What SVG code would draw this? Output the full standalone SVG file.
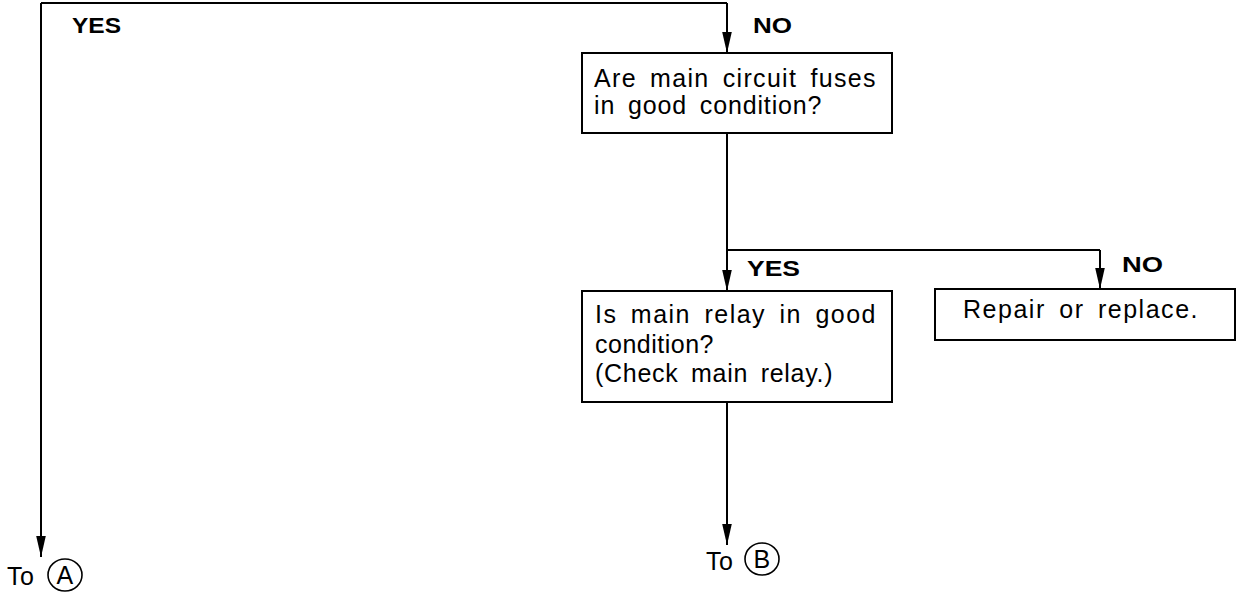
<svg xmlns="http://www.w3.org/2000/svg" width="1240" height="592" viewBox="0 0 1240 592">
  <style>
    .box { fill: #ffffff; stroke: #000000; stroke-width: 2; }
    .line { fill: none; stroke: #000000; stroke-width: 2; }
    .arrow { fill: none; stroke: #000000; stroke-width: 2; marker-end: url(#head); }
    .txt { font-family: "Liberation Sans", Arial, sans-serif; font-size: 25px; letter-spacing: 0.5px; word-spacing: 5px; fill: #000000; }
    .lbl { font-family: "Liberation Sans", Arial, sans-serif; font-size: 22px; font-weight: bold; fill: #000000; }
    .ref { fill: none; stroke: #000000; stroke-width: 1.6; }
  </style>
  <defs>
    <!-- long, narrow solid arrowhead pointing along the line -->
    <marker id="head" markerUnits="userSpaceOnUse" markerWidth="22" markerHeight="12" viewBox="0 0 22 12" refX="21" refY="6" orient="auto">
      <path d="M0,1.2 L21,6 L0,10.8 Z" fill="#000000"/>
    </marker>
  </defs>
  <rect width="1240" height="592" fill="#ffffff"/>

  <!-- connectors -->
  <g id="connectors">
    <path class="line" d="M41,3 H727"/>
    <path class="arrow" d="M41,3 V557"/>
    <path class="arrow" d="M727,3 V53"/>
    <path class="line" d="M727,133 V250 H1100"/>
    <path class="arrow" d="M727,250 V291"/>
    <path class="arrow" d="M1100,250 V289"/>
    <path class="arrow" d="M727,402 V545"/>
  </g>

  <!-- branch labels -->
  <g id="labels">
    <text class="lbl" x="72" y="33" textLength="49" lengthAdjust="spacingAndGlyphs">YES</text>
    <text class="lbl" x="753" y="33" textLength="39" lengthAdjust="spacingAndGlyphs">NO</text>
    <text class="lbl" x="747" y="276" textLength="53" lengthAdjust="spacingAndGlyphs">YES</text>
    <text class="lbl" x="1122" y="272" textLength="41" lengthAdjust="spacingAndGlyphs">NO</text>
  </g>

  <g id="fuses-check">
    <rect class="box" x="582" y="53" width="310" height="80"/>
    <text class="txt" x="594" y="87" textLength="282" lengthAdjust="spacing">Are main circuit fuses</text>
    <text class="txt" x="594" y="114" textLength="228" lengthAdjust="spacing">in good condition?</text>
  </g>

  <g id="relay-check">
    <rect class="box" x="582" y="291" width="310" height="111"/>
    <text class="txt" x="595" y="323" textLength="281" lengthAdjust="spacing">Is main relay in good</text>
    <text class="txt" x="595" y="353">condition?</text>
    <text class="txt" x="595" y="382" textLength="238" lengthAdjust="spacing">(Check main relay.)</text>
  </g>

  <g id="repair">
    <rect class="box" x="935" y="289" width="300" height="51"/>
    <text class="txt" x="963" y="318" textLength="235" lengthAdjust="spacing">Repair or replace.</text>
  </g>

  <g id="to-a">
    <text class="txt" x="7" y="585">To</text>
    <ellipse class="ref" cx="65" cy="575" rx="17" ry="16"/>
    <text class="txt" x="65" y="584" text-anchor="middle">A</text>
  </g>

  <g id="to-b">
    <text class="txt" x="706" y="570">To</text>
    <ellipse class="ref" cx="762" cy="559" rx="17" ry="16"/>
    <text class="txt" x="762" y="568" text-anchor="middle">B</text>
  </g>
</svg>
